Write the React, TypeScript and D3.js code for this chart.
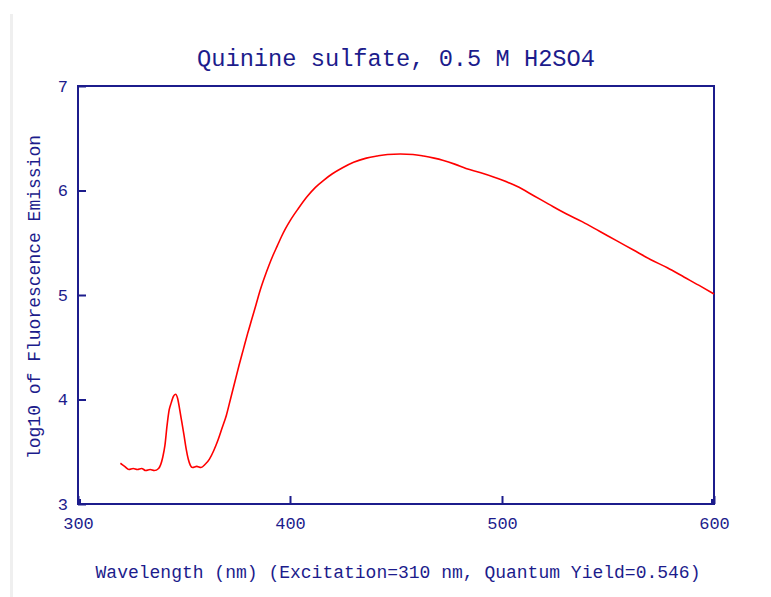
import React, { useEffect, useRef } from "react";
import * as d3 from "d3";

// emission spectrum (nm, log10 of emission)
const wavelengths = [
  320, 322, 324, 326, 328, 330, 332, 334, 336, 338, 340, 341, 342, 343, 344, 345, 346, 347, 348, 349,
  350, 351, 352, 353, 354, 356, 358, 360, 362, 364, 366, 368, 370, 372, 374, 376, 378, 380, 382, 384,
  386, 388, 390, 392, 394, 396, 398, 400, 404, 408, 412, 416, 420, 425, 430, 436, 441, 446, 452, 458,
  463, 468, 472, 478, 483, 490, 496, 500, 507, 515, 522, 530, 538, 546, 554, 562, 570, 578, 586, 594, 600,
];
const logEmission = [
  3.39, 3.36, 3.33, 3.34, 3.33, 3.34, 3.32, 3.33, 3.32, 3.34, 3.45, 3.56, 3.75, 3.9, 3.97, 4.03, 4.05, 4.01, 3.9, 3.78,
  3.66, 3.53, 3.43, 3.37, 3.35, 3.36, 3.35, 3.38, 3.43, 3.51, 3.61, 3.73, 3.85, 4.01, 4.17, 4.33, 4.48, 4.63, 4.77, 4.91,
  5.05, 5.17, 5.28, 5.38, 5.47, 5.56, 5.64, 5.71, 5.83, 5.94, 6.03, 6.1, 6.16, 6.22, 6.27, 6.31, 6.33, 6.345, 6.35, 6.345,
  6.33, 6.31, 6.29, 6.25, 6.21, 6.17, 6.13, 6.1, 6.04, 5.95, 5.87, 5.78, 5.7, 5.61, 5.52, 5.43, 5.34, 5.26, 5.17, 5.08, 5.01,
];
const xTicks = [300, 400, 500, 600];
const yTicks = [3, 4, 5, 6, 7];

const title = "Quinine sulfate, 0.5 M H2SO4";
const xLabel = "Wavelength (nm) (Excitation=310 nm, Quantum Yield=0.546)";
const yLabel = "log10 of Fluorescence Emission";

const App = () => {
  const svgRef = useRef<SVGSVGElement>(null);

  useEffect(() => {
    const width = 771;
    const height = 597;
    const left = 78;
    const right = 714;
    const top = 86;
    const bottom = 504;
    const navy = "#1c1c8c";
    const font = "'Liberation Mono', 'DejaVu Sans Mono', monospace";

    const svg = d3.select(svgRef.current)
      .attr("width", width)
      .attr("height", height)
      .attr("viewBox", `0 0 ${width} ${height}`);

    svg.selectAll("*").remove();

    svg.append("rect").attr("width", width).attr("height", height).attr("fill", "white");

    // faint page border on the left
    svg.append("rect")
      .attr("x", 10).attr("y", 14).attr("width", 3).attr("height", height - 14)
      .attr("fill", "#efefef");

    const x = d3.scaleLinear().domain([300, 600]).range([left, right]);
    const y = d3.scaleLinear().domain([3, 7]).range([bottom, top]);

    // title
    svg.append("text")
      .attr("x", (left + right) / 2)
      .attr("y", 66)
      .attr("text-anchor", "middle")
      .attr("fill", navy)
      .style("font-family", font)
      .style("font-size", "23.7px")
      .text(title);

    // frame
    svg.append("rect")
      .attr("x", left).attr("y", top)
      .attr("width", right - left).attr("height", bottom - top)
      .attr("fill", "none")
      .attr("stroke", navy)
      .attr("stroke-width", 2);

    // corner marks
    svg.append("rect").attr("x", left).attr("y", bottom - 5).attr("width", 3).attr("height", 5).attr("fill", navy);
    svg.append("rect").attr("x", right - 3).attr("y", bottom - 5).attr("width", 3).attr("height", 5).attr("fill", navy);

    // x axis ticks + labels
    const gx = svg.append("g").attr("transform", `translate(0,${bottom})`);
    gx.call(
      d3.axisBottom(x).tickValues(xTicks).tickSize(-8).tickPadding(13).tickFormat(d3.format("d"))
    );
    gx.select(".domain").remove();
    gx.selectAll("line").attr("stroke", navy).attr("stroke-width", 2);
    gx.selectAll("text")
      .attr("fill", navy)
      .style("font-family", font)
      .style("font-size", "17px");

    // y axis ticks + labels
    const gy = svg.append("g").attr("transform", `translate(${left},0)`);
    gy.call(
      d3.axisLeft(y).tickValues(yTicks).tickSize(-8).tickPadding(10).tickFormat(d3.format("d"))
    );
    gy.select(".domain").remove();
    gy.selectAll("line").attr("stroke", navy).attr("stroke-width", 2);
    gy.selectAll("text")
      .attr("fill", navy)
      .style("font-family", font)
      .style("font-size", "17px");

    // axis titles
    svg.append("text")
      .attr("x", (left + right) / 2 + 2)
      .attr("y", 578)
      .attr("text-anchor", "middle")
      .attr("fill", navy)
      .style("font-family", font)
      .style("font-size", "18px")
      .text(xLabel);

    svg.append("text")
      .attr("transform", `translate(40,${(top + bottom) / 2 + 2}) rotate(-90)`)
      .attr("text-anchor", "middle")
      .attr("fill", navy)
      .style("font-family", font)
      .style("font-size", "18px")
      .text(yLabel);

    // spectrum
    const line = d3.line<number>()
      .x((d, i) => x(wavelengths[i]))
      .y((d) => y(d))
      .curve(d3.curveMonotoneX);

    svg.append("path")
      .datum(logEmission)
      .attr("d", line)
      .attr("fill", "none")
      .attr("stroke", "#ff0000")
      .attr("stroke-width", 1.6);
  }, []);

  return <svg ref={svgRef} style={{ position: "absolute", left: 0, top: 0 }}></svg>;
};

export default App;
